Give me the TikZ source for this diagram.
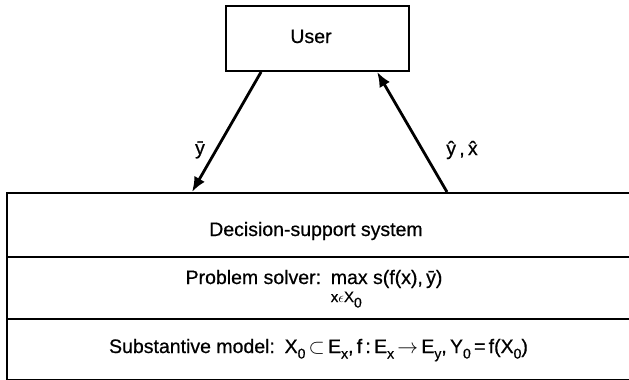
\documentclass[tikz,border=0pt]{standalone}
\usepackage{fontspec}
\setmainfont[FakeBold=0.6]{Liberation Sans}
\usetikzlibrary{arrows.meta}
\newcommand\sbs[1]{\raisebox{-5.5pt}{\fontsize{14}{14}\selectfont #1}}
\begin{document}
\begin{tikzpicture}[x=1pt,y=-1pt,
  boxline/.style={draw,line width=1.8pt},
  layer/.style={boxline,rectangle,minimum width=634pt,inner sep=0pt,anchor=north west},
  txt/.style={inner sep=0pt,anchor=base,font=\fontsize{19.5}{23}\selectfont},
  flow/.style={line width=2.8pt,-{Latex[length=15pt,width=12pt]}},
  lbl/.style={inner sep=0pt,font=\fontsize{19.5}{23}\selectfont}]
\useasboundingbox (0,0) rectangle (629,380);
% user
\node[boxline,rectangle,minimum width=183pt,minimum height=65pt,inner sep=0pt] (user) at (317.5,38.5) {};
\node[txt] (usert) at (311,43) {User};
% layers
\node[layer,minimum height=64pt] (dss) at (6,192) {};
\node[layer,minimum height=62pt] (ps) at (6,256) {};
\node[layer,minimum height=61pt] (sm) at (6,318) {};
\node[txt] (dsst) at (316,236) {Decision-support system};
\node[txt] (pst) at (314,284) {Problem solver:\enspace\rlap{\raisebox{-18pt}{\fontsize{15}{15}\selectfont x$\epsilon$X\sbs{0}}}max s(f(x),\,\={y})};
\node[txt] (smt) at (318.5,353) {Substantive model:\enspace X\sbs{0}\,$\subset$\,E\sbs{x},\,f\,:\,E\sbs{x}\,$\rightarrow$\,E\sbs{y},\,Y\sbs{0}\,=\,f(X\sbs{0})};
% connectors
\coordinate (a1) at ([xshift=36pt]user.south west);
\coordinate (a2) at ([xshift=186pt]dss.north west);
\coordinate (b1) at ([xshift=441pt]dss.north west);
\coordinate (b2) at ([xshift=152pt]user.south west);
\draw[flow] (a1) -- (a2);
\draw[flow] (b1) -- (b2);
\node[lbl] (ybar) at (200,150) {\={y}};
\node[lbl] (yhx) at (462,150) {\^{y}\,,\,\^{x}};
\end{tikzpicture}
\end{document}
